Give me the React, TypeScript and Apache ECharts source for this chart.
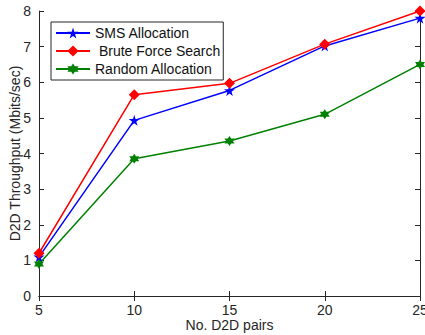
import React, { useEffect, useRef } from "react";
import * as echarts from "echarts";

const categories = [5, 10, 15, 20, 25];
const smsAllocation = [1.1, 4.93, 5.77, 7.02, 7.8];
const bruteForce = [1.2, 5.65, 5.97, 7.07, 8.0];
const randomAllocation = [0.9, 3.85, 4.35, 5.1, 6.5];

const STAR = "path://M50,0 L61,35 L98,35 L68,57 L79,91 L50,70 L21,91 L32,57 L2,35 L39,35 Z";
const HEXAGRAM = "path://M50,0 L64,25 L93,25 L79,50 L93,75 L64,75 L50,100 L36,75 L7,75 L21,50 L7,25 L36,25 Z";

export default function App() {
  const ref = useRef<HTMLDivElement>(null);
  useEffect(() => {
    if (!ref.current) return;
    const chart = echarts.init(ref.current, null, { renderer: "svg" });
    const font = "'Liberation Sans', Arial, sans-serif";
    const axisLine = { show: true, lineStyle: { color: "#262626", width: 1 } };
    const tick = { show: true, inside: true, length: 5, lineStyle: { color: "#262626" } };
    const mk = (name: string, data: number[], color: string, symbol: string, size: number) => ({
      name,
      type: "line",
      data: categories.map((c, i) => [c, data[i]]),
      symbol,
      symbolSize: size,
      lineStyle: { color, width: 1.5 },
      itemStyle: { color },
      xAxisIndex: 0,
      yAxisIndex: 0,
    });
    chart.setOption({
      animation: false,
      backgroundColor: "#fff",
      textStyle: { fontFamily: font },
      grid: { left: 39, right: 5, top: 11, bottom: 39, containLabel: false, outerBoundsMode: "none" },
      legend: {
        orient: "vertical",
        left: 51,
        top: 22,
        backgroundColor: "#fff",
        borderColor: "#262626",
        borderWidth: 1,
        borderRadius: 0,
        padding: [4, 3, 4, 4],
        itemGap: 4,
        itemWidth: 34,
        itemHeight: 14,
        textStyle: { fontSize: 14, color: "#111", fontFamily: font },
        data: ["SMS Allocation", " Brute Force Search", "Random Allocation"],
      },
      xAxis: [
        {
          type: "value",
          min: 5,
          max: 25,
          interval: 5,
          name: "No. D2D pairs",
          nameLocation: "middle",
          nameGap: 22,
          nameMoveOverlap: false,
          nameTextStyle: { fontSize: 14, color: "#262626", fontFamily: font },
          axisLine,
          axisTick: tick,
          axisLabel: { fontSize: 14, color: "#262626", margin: 7, fontFamily: font },
          splitLine: { show: false },
        },
        {
          type: "value",
          position: "top",
          min: 5,
          max: 25,
          interval: 5,
          axisLine,
          axisTick: tick,
          axisLabel: { show: false },
          splitLine: { show: false },
        },
      ],
      yAxis: [
        {
          type: "value",
          min: 0,
          max: 8,
          interval: 1,
          name: "D2D Throughput (Mbits/sec)",
          nameLocation: "middle",
          nameGap: 17,
          nameMoveOverlap: false,
          nameTextStyle: { fontSize: 14, color: "#262626", fontFamily: font },
          axisLine,
          axisTick: tick,
          axisLabel: { fontSize: 14, color: "#262626", margin: 8, fontFamily: font },
          splitLine: { show: false },
        },
        {
          type: "value",
          position: "right",
          min: 0,
          max: 8,
          interval: 1,
          axisLine,
          axisTick: tick,
          axisLabel: { show: false },
          splitLine: { show: false },
        },
      ],
      series: [
        mk("SMS Allocation", smsAllocation, "#0000ff", STAR, 11),
        mk(" Brute Force Search", bruteForce, "#ff0000", "diamond", 11),
        mk("Random Allocation", randomAllocation, "#008000", HEXAGRAM, 10),
      ],
    });
    return () => chart.dispose();
  }, []);
  return <div ref={ref} style={{ position: "fixed", left: 0, top: 0, width: 425, height: 335 }} />;
}
